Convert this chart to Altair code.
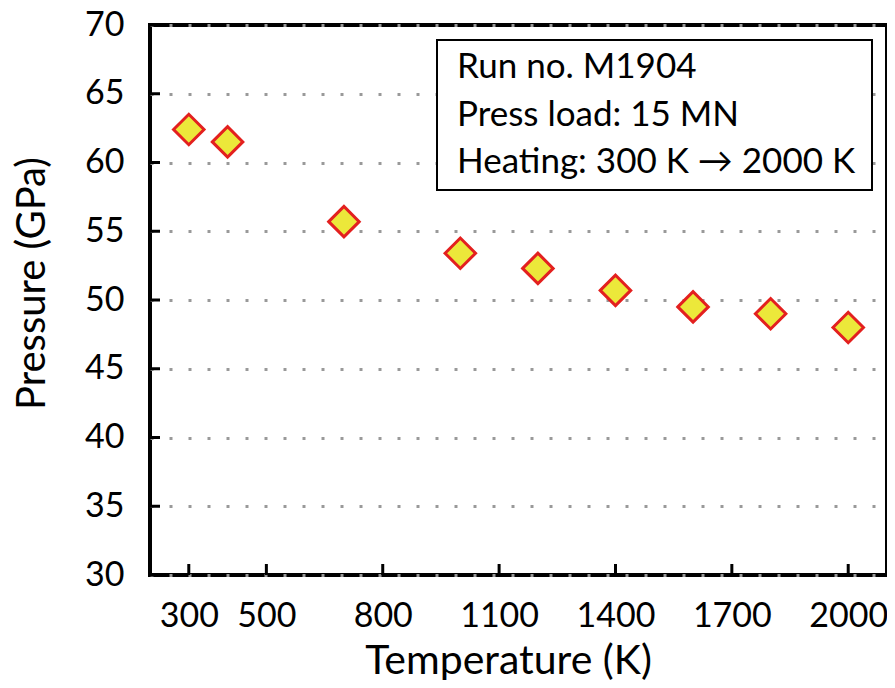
import altair as alt
import pandas as pd

temperature = [300, 400, 700, 1000, 1200, 1400, 1600, 1800, 2000]
pressure = [62.4, 61.5, 55.7, 53.4, 52.3, 50.7, 49.5, 49.0, 48.0]
x_ticks = [300, 500, 800, 1100, 1400, 1700, 2000]
y_ticks = [30, 35, 40, 45, 50, 55, 60, 65, 70]
note_lines = ["Run no. M1904", "Press load: 15 MN", "Heating: 300 K \u2192 2000 K"]

W, H = 737, 550
FONT = "Lato"

df = pd.DataFrame({"T": temperature, "P": pressure})
xscale = alt.Scale(domain=[200, 2100], nice=False, zero=False)
yscale = alt.Scale(domain=[30, 70], nice=False, zero=False)

xaxis = alt.Axis(values=x_ticks, format="d", title="Temperature (K)", grid=False,
                 labelFontSize=34, labelPadding=24, titleFontSize=41,
                 titleX=358, titleY=86, titleBaseline="middle", titleAlign="center",
                 labelFlush=False)
yaxis = alt.Axis(values=y_ticks, format="d", title="Pressure (GPa)", grid=True,
                 gridDash=[3, 16], gridColor="#999999", gridWidth=3, labelFontSize=34,
                 labelPadding=26, titleFontSize=40, titleX=-118, titleY=258,
                 titleAngle=-90, titleBaseline="middle", titleAlign="center",
                 labelFlush=False)

points = alt.Chart(df).mark_point(
    shape="diamond", size=930, filled=True, fill="#ECE83A", stroke="#E3201F",
    strokeWidth=3, opacity=1
).encode(
    x=alt.X("T:Q", scale=xscale, axis=xaxis),
    y=alt.Y("P:Q", scale=yscale, axis=yaxis),
)

xt = alt.Chart(pd.DataFrame({"x": x_ticks})).mark_rule(color="black", strokeWidth=3).encode(
    x=alt.X("x:Q", scale=xscale, axis=xaxis), y=alt.value(H), y2=alt.value(H - 11))
yt = alt.Chart(pd.DataFrame({"y": y_ticks})).mark_rule(color="black", strokeWidth=3).encode(
    y=alt.Y("y:Q", scale=yscale, axis=yaxis), x=alt.value(0), x2=alt.value(10))

box = alt.Chart(pd.DataFrame({"a": [0]})).mark_rect(
    fill="white", stroke="black", strokeWidth=2
).encode(x=alt.value(287), x2=alt.value(722), y=alt.value(15), y2=alt.value(165))

notes = alt.Chart(pd.DataFrame({"line": note_lines, "ypx": [53, 101, 148]})).mark_text(
    align="left", baseline="alphabetic", font=FONT, fontSize=35, color="black"
).encode(x=alt.value(307), y=alt.Y("ypx:Q", scale=None), text="line:N")

chart = alt.layer(points, xt, yt, box, notes).properties(
    width=W, height=H, autosize=alt.AutoSizeParams(type="none"),
    padding={"left": 142, "top": 17, "right": 0, "bottom": 105}
).configure_view(stroke="black", strokeWidth=4).configure_axis(
    domain=False, ticks=False, labelFont=FONT, titleFont=FONT, labelColor="black",
    titleColor="black", titleFontWeight="normal"
)

chart.save("out.html", embed_options={"renderer": "svg", "actions": False})
